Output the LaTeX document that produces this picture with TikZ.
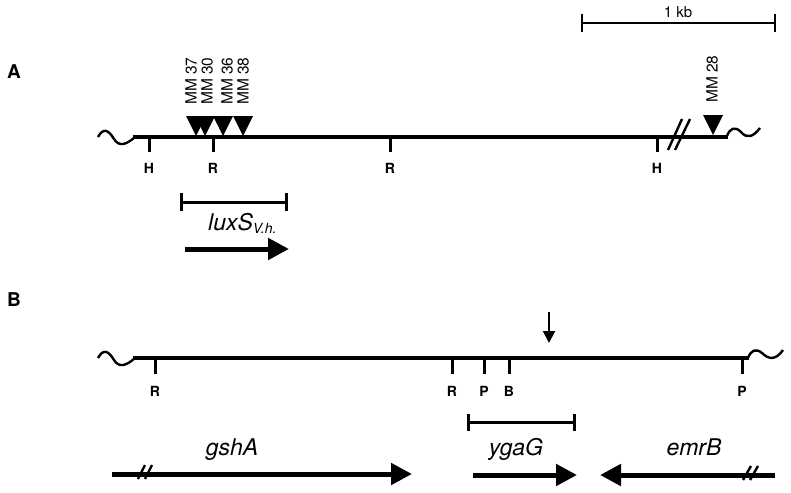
\documentclass[tikz,border=0pt]{standalone}
\usepackage{fontspec}
\setmainfont{TeX Gyre Heros}
\usetikzlibrary{arrows.meta}
\begin{document}
\begin{tikzpicture}[x=1pt,y=-1pt,
  dna/.style={line width=4pt},
  wig/.style={line width=2.4pt},
  tick/.style={line width=3pt},
  site/.style={font=\bfseries\fontsize{14}{14}\selectfont, inner sep=0pt},
  mm/.style={font=\fontsize{15.5}{15.5}\selectfont, rotate=90, anchor=west, inner sep=0pt},
  gene/.style={font=\itshape\fontsize{23}{23}\selectfont, inner sep=0pt, anchor=base},
  genearrow/.style={line width=5pt, -{Triangle[length=21pt,width=21pt]}},
  brk/.style={line width=2.4pt},
  bar/.style={line width=3pt},
  panel/.style={font=\bfseries\fontsize{19}{19}\selectfont, inner sep=0pt}
]
\useasboundingbox (0,0) rectangle (791,492);

% scale bar
\draw[line width=1.5pt] (582,23) -- (775,23);
\draw[line width=1.5pt] (582,14) -- (582,32);
\draw[line width=1.5pt] (775,14) -- (775,32);
\node[font=\fontsize{15}{15}\selectfont, inner sep=0pt] (kb) at (678,12) {1 kb};

% panel labels
\node[panel] (pA) at (14,72) {A};
\node[panel] (pB) at (14,300) {B};

% ---------- Panel A ----------
\draw[wig] (98,137) .. controls (103,128) and (108,129) .. (114,139) .. controls (119,147) and (126,145) .. (135,137);
\draw[dna] (133,137) -- (728,137);
\draw[wig] (727,136) .. controls (730,128) and (735,126) .. (741,132) .. controls (747,139) and (753,137) .. (760,128);
% break
\draw[brk] (668,150) -- (682,119);
\draw[brk] (675,150) -- (690,119);

% sites
\foreach \x/\l/\n in {149/H/a1, 213/R/a2, 390/R/a3, 657/H/a4}{
  \draw[tick] (\x,137) -- (\x,152);
  \node[site] (\n) at (\x,168) {\l};
}

% insertions
\foreach \x in {196,205,223,243}{
  \fill (\x-10,116) -- (\x+10,116) -- (\x,136) -- cycle;
}
\fill (703,115) -- (723,115) -- (713,135) -- cycle;
\node[mm] (m37) at (191,105) {MM 37};
\node[mm] (m30) at (207,105) {MM 30};
\node[mm] (m36) at (227,105) {MM 36};
\node[mm] (m38) at (243,105) {MM 38};
\node[mm] (m28) at (712,103) {MM 28};

% luxS clone and gene
\draw[bar] (181,202) -- (286,202);
\draw[bar] (181,193) -- (181,211);
\draw[bar] (286,193) -- (286,211);
\node[gene, anchor=base west] (lux) at (208,230) {luxS\textsubscript{\fontsize{14}{14}\selectfont V.h.}};
\draw[genearrow] (185,249) -- (289,249);

% ---------- Panel B ----------
\draw[wig] (98,358) .. controls (103,349) and (108,350) .. (114,360) .. controls (119,368) and (126,366) .. (135,358);
\draw[dna] (133,358) -- (749,358);
\draw[wig] (748,358) .. controls (751,350) and (756,348) .. (762,353) .. controls (769,360) and (776,360) .. (783,350);

\foreach \x/\l/\n in {155/R/b1, 452/R/b2, 484/P/b3, 509/B/b4, 742/P/b5}{
  \draw[tick] (\x,358) -- (\x,374);
  \node[site] (\n) at (\x,391) {\l};
}

% insertion arrow
\draw[line width=2pt, -{Triangle[length=12pt,width=12pt]}] (549,312) -- (549,343);

% ygaG clone
\draw[bar] (468,422) -- (574,422);
\draw[bar] (468,414) -- (468,431);
\draw[bar] (574,414) -- (574,431);

% genes
\node[gene] (gsh) at (232,455) {gshA};
\node[gene] (yga) at (516,455) {ygaG};
\node[gene] (emr) at (694,455) {emrB};
\draw[genearrow] (112,474) -- (412,474);
\draw[genearrow] (473,475) -- (577,475);
\draw[genearrow] (775,475) -- (600,475);
% breaks
\draw[brk] (138,479) -- (145,465);
\draw[brk] (145,479) -- (152,465);
\draw[brk] (743,480) -- (751,466);
\draw[brk] (750,480) -- (758,466);
\end{tikzpicture}
\end{document}
